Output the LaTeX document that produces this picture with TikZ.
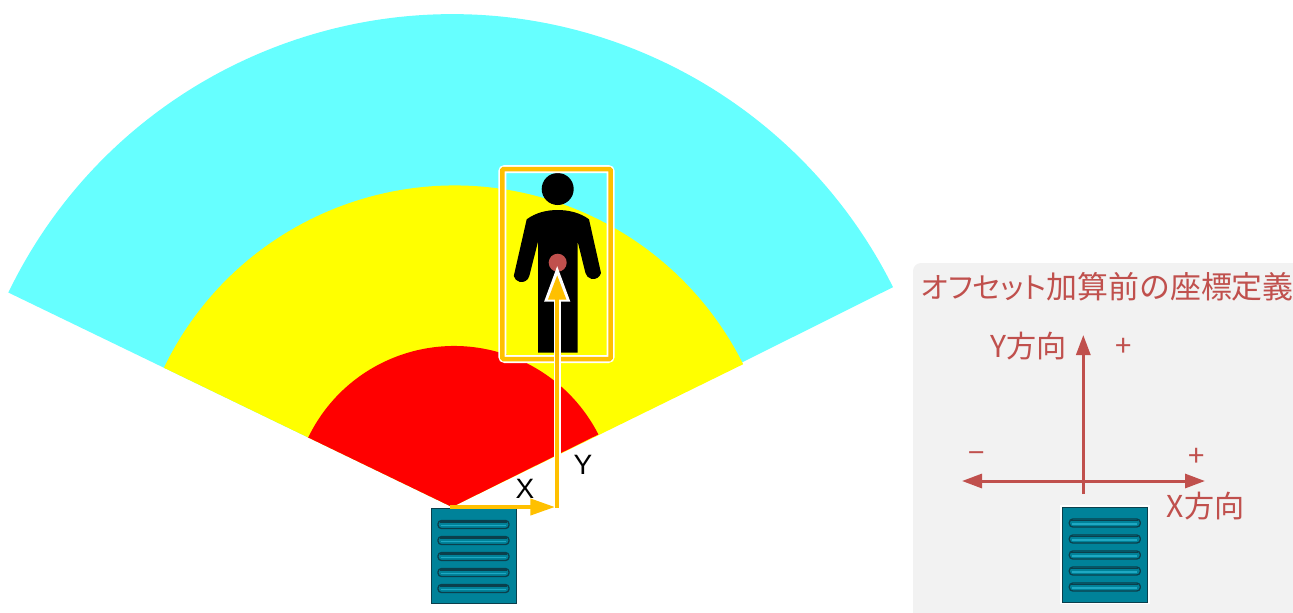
\documentclass[tikz,border=0pt]{standalone}
\usepackage{fontspec}
\setmainfont{Liberation Sans}
\newfontfamily\cjk{Noto Sans CJK JP}
\newfontfamily\cjkp[RawFeature=+palt]{Noto Sans CJK JP}
\usetikzlibrary{arrows.meta}
\definecolor{fancyan}{HTML}{66FFFF}
\definecolor{fanyellow}{HTML}{FFFF00}
\definecolor{fanred}{HTML}{FF0000}
\definecolor{amber}{HTML}{FFC000}
\definecolor{brick}{HTML}{C0504D}
\definecolor{panelgray}{HTML}{F2F2F2}
\definecolor{devteal}{HTML}{008299}
\definecolor{devdark}{HTML}{0B3F4C}
\definecolor{devlight}{HTML}{1FA8C2}
\tikzset{
  x=0.75pt,y=-0.75pt,
  px/.style={line width=#1*0.75pt},
  slot/.style={rounded corners=2.6pt,fill=devteal,draw=devdark,px=1.3},
  panellabel/.style={text=brick,inner sep=0pt,font=\cjk\fontsize{22.6}{26}\selectfont},
  signlabel/.style={text=brick,inner sep=0pt,font=\cjk\fontsize{22}{26}\selectfont},
  axislabel/.style={text=black,inner sep=0pt,font=\fontsize{21}{25}\selectfont},
  axisarrow/.style={draw=brick,px=3,-{Triangle[length=15pt,width=10.5pt,fill=brick]}},
  device/.pic={
    \fill[devteal,draw=devdark,px=0.8] (0,0) -- (85,0) -- (85,95) -- (0,95) -- cycle;
    \foreach \yy in {16,32,48,64,80}{
      \draw[slot] (7,\yy-4) rectangle (78,\yy+4);
      \fill[devdark] (9,\yy-3.2) rectangle (76,\yy-1.6);
      \draw[devlight,px=1.6] (10,\yy+1) -- (75,\yy+1);
    }
  }
}
\begin{document}
\begin{tikzpicture}
\useasboundingbox (0,0) rectangle (1293,612);
\clip (0,0) rectangle (1293,612);
% fan
\coordinate (origin) at (452,507);
\fill[fancyan] (origin) -- ++(154.2:369.6pt) arc[start angle=154.2,end angle=26.5,radius=369.6pt] -- cycle;
\fill[fanyellow] (origin) -- ++(154.2:240pt) arc[start angle=154.2,end angle=26.5,radius=242pt] -- cycle;
\fill[fanred] (origin) -- ++(154.2:119.8pt) arc[start angle=154.2,end angle=27,radius=121.5pt] -- cycle;
% person
\fill[black] (557.7,189) circle[radius=12pt];
\fill[black,line join=round]
  (526.7,219.3) .. controls (536,212.5) and (547,210) .. (557.7,210)
  .. controls (568,210) and (580,212.5) .. (589,219.3)
  -- (601,273) arc[start angle=-14,end angle=-166,radius=6pt*1.0]
  -- (577.7,241.7) -- (577.7,352.7) -- (538,352.7) -- (538,241.7)
  -- (529.3,276) arc[start angle=-14,end angle=-166,radius=6pt]
  -- cycle;
\fill[brick] (557.7,262.7) circle[radius=6.75pt];
% selection box
\draw[white,px=8,rounded corners=2pt] (502.3,169) rectangle (610.7,359);
\draw[amber,px=4.5,rounded corners=1pt] (502.3,169) rectangle (610.7,359);
% device + arrows
\pic at (431,508.5) {device};
\coordinate (corner) at (557.2,507.5);
\coordinate (xstart) at (450,507);
\coordinate (xtip) at (555,507);
\coordinate (ytipw) at (557.2,265);
\coordinate (ytipo) at (557.2,275);
\draw[amber,px=4,-{Triangle[length=18.5pt,width=12pt,fill=amber]}] (xstart) -- (xtip);
\draw[white,px=7,-{Triangle[length=27.5pt,width=18pt,fill=white]}] (corner) -- (ytipw);
\draw[amber,px=4,-{Triangle[length=18.5pt,width=13pt,fill=amber]}] (corner) -- (ytipo);
\node[axislabel] (xlab) at (525,489) {X};
\node[axislabel] (ylab) at (583,464.5) {Y};
% panel
\fill[panelgray,rounded corners=6pt] (913,263) rectangle (1340,660);
\node[text=brick,inner sep=0pt,anchor=west] (title) at (921,287)
  {\fontsize{22}{26}\selectfont\cjkp オフセット\fontsize{23.2}{26}\selectfont\cjk 加算前の座標定義};
\coordinate (ybottom) at (1083.3,494);
\coordinate (ytop) at (1083.3,335);
\coordinate (xleft) at (962,481);
\coordinate (xright) at (1205,481);
\draw[axisarrow] (ybottom) -- (ytop);
\draw[axisarrow] (1083.3,481) -- (xright);
\draw[axisarrow] (1083.3,481) -- (xleft);
\node[panellabel,anchor=west] (ydir) at (990,346) {Y方向};
\node[panellabel,anchor=west] (xdir) at (1166.5,506) {X方向};
\node[signlabel] (yplus) at (1123.3,347) {+};
\node[signlabel] (xplus) at (1196.5,457) {+};
\node[signlabel] (xminus) at (976.3,458) {−};
\fill[white] (1060,504.5) rectangle (1150,604);
\pic at (1062.3,507) {device};
\end{tikzpicture}
\end{document}
